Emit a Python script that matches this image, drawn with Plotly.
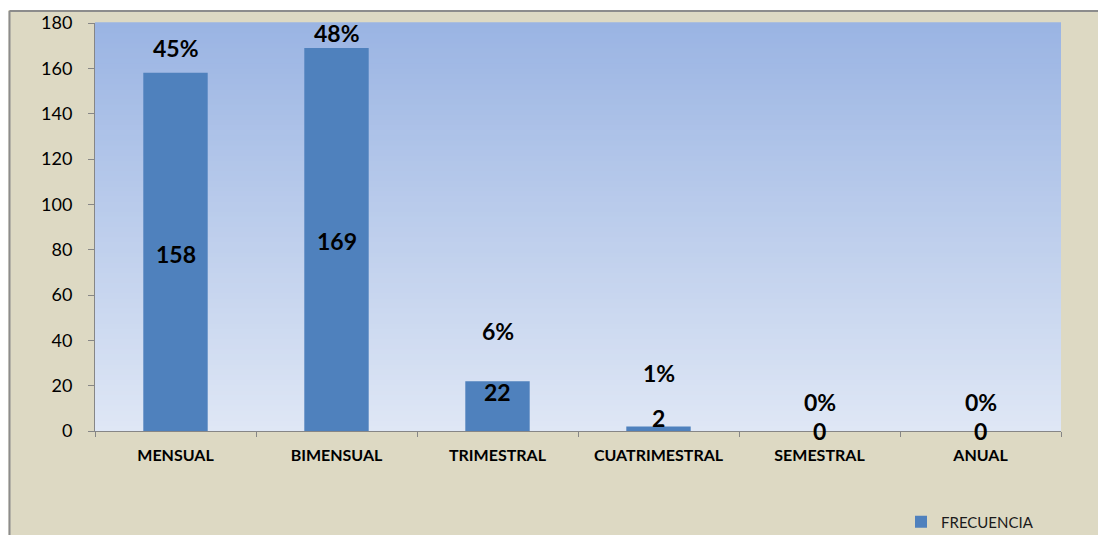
import plotly.graph_objects as go

# Frequency of payments by period
categories = ["MENSUAL", "BIMENSUAL", "TRIMESTRAL", "CUATRIMESTRAL", "SEMESTRAL", "ANUAL"]
frecuencia = [158, 169, 22, 2, 0, 0]
porcentajes = ["45%", "48%", "6%", "1%", "0%", "0%"]

W, H = 1098, 535
M_L, M_R, M_T, M_B = 95, 37, 23, 104
PW, PH = W - M_L - M_R, H - M_T - M_B

FONT = "Lato, 'Open Sans', sans-serif"
BAR = "#4F81BD"
TAN = "#DDD9C3"
AXIS = "#868686"


def px_x(px):
    return (px - M_L) / PW


def px_y(py):
    return (H - M_B - py) / PH


fig = go.Figure()
fig.add_trace(go.Bar(
    x=categories,
    y=frecuencia,
    name="FRECUENCIA",
    marker=dict(color=BAR, line=dict(width=0)),
    hoverinfo="x+y",
))

shapes = []
# white strips outside the chart frame
shapes.append(dict(type="rect", xref="paper", yref="paper",
                   x0=px_x(-5), x1=px_x(8.5), y0=px_y(H + 5), y1=px_y(-5),
                   fillcolor="white", line=dict(width=0), layer="below"))
shapes.append(dict(type="rect", xref="paper", yref="paper",
                   x0=px_x(-5), x1=px_x(W + 5), y0=px_y(10), y1=px_y(-5),
                   fillcolor="white", line=dict(width=0), layer="below"))
# grey frame lines (top and left)
shapes.append(dict(type="line", xref="paper", yref="paper",
                   x0=px_x(9.5), x1=px_x(W + 5), y0=px_y(11), y1=px_y(11),
                   line=dict(color="#8C8C8C", width=2), layer="below"))
shapes.append(dict(type="line", xref="paper", yref="paper",
                   x0=px_x(9.5), x1=px_x(9.5), y0=px_y(11), y1=px_y(H + 5),
                   line=dict(color="#8C8C8C", width=2), layer="below"))

# vertical gradient in the plotting area
top_rgb = (154, 180, 227)
bot_rgb = (223, 231, 245)
n_bands = 80
for i in range(n_bands):
    t = (i + 0.5) / n_bands
    c = tuple(round(bot_rgb[k] + (top_rgb[k] - bot_rgb[k]) * t) for k in range(3))
    shapes.append(dict(type="rect", xref="paper", yref="paper",
                       x0=0, x1=1, y0=i / n_bands, y1=(i + 1) / n_bands + 0.002,
                       fillcolor="rgb(%d,%d,%d)" % c, line=dict(width=0),
                       layer="below"))

# label placement (pixel offsets)
pct_shift = [25, 15, 50, 53, 29, 29]
cnt_shift = [-2, -2, 14, 11, 0, 0]

label_font = dict(family=FONT, size=23, color="black", weight="bold")
annotations = []
for cat, v, p, s in zip(categories, frecuencia, porcentajes, pct_shift):
    annotations.append(dict(x=cat, y=v, text=p, showarrow=False, yanchor="middle",
                            yshift=s, font=label_font))
for cat, v, s in zip(categories, frecuencia, cnt_shift):
    annotations.append(dict(x=cat, y=v / 2, text=str(v), showarrow=False,
                            yanchor="middle", yshift=s, font=label_font))

fig.update_layout(
    width=W, height=H,
    margin=dict(l=M_L, r=M_R, t=M_T, b=M_B, autoexpand=False),
    paper_bgcolor=TAN,
    plot_bgcolor="rgb(223,231,245)",
    bargap=0.6,
    shapes=shapes,
    annotations=annotations,
    showlegend=True,
    legend=dict(x=px_x(901), y=px_y(522), xanchor="left", yanchor="middle",
                bgcolor="rgba(0,0,0,0)",
                font=dict(family=FONT, size=15, color="#1a1a1a")),
    xaxis=dict(
        type="category",
        showline=True, linecolor=AXIS, linewidth=1,
        ticks="outside", tickson="boundaries", ticklen=5, tickcolor=AXIS,
        showgrid=False, zeroline=False,
        ticklabelstandoff=10,
        tickfont=dict(family=FONT, size=16, color="black", weight="bold"),
    ),
    yaxis=dict(
        range=[0, 180],
        tickvals=list(range(0, 181, 20)),
        showline=True, linecolor=AXIS, linewidth=1,
        ticks="outside", ticklen=6, tickcolor=AXIS,
        showgrid=False, zeroline=False,
        ticklabelstandoff=12,
        tickfont=dict(family=FONT, size=18, color="black"),
    ),
)

fig.write_html("out.html")
